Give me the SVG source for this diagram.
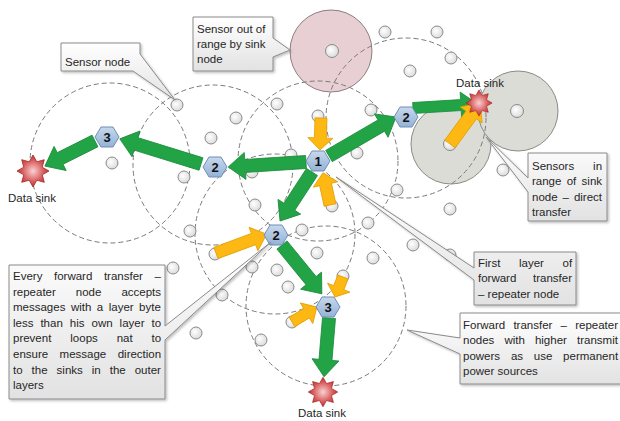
<svg xmlns="http://www.w3.org/2000/svg" xmlns:xlink="http://www.w3.org/1999/xlink" width="620" height="421" viewBox="0 0 620 421">
<defs>
<style>
.range{fill:none;stroke:#7a7a7a;stroke-width:1;stroke-dasharray:5,3}
.sensor{fill:url(#sensorGrad);stroke:#8a8a8a;stroke-width:1}
.green{fill:#22a346;stroke:#1a8a3a;stroke-width:0.8}
.yellow{fill:#fdb813;stroke:#e39e00;stroke-width:0.8}
.hex{fill:url(#hexGrad);stroke:#6f8fb7;stroke-width:1}
.hexlbl{font-family:"Liberation Sans",Arial,sans-serif;font-size:13px;font-weight:bold;fill:#111;text-anchor:middle}
.txt{font-family:"Liberation Sans",Arial,sans-serif;font-size:11.5px;fill:#262626}
.mid{text-anchor:middle}
.callout{fill:url(#calloutGrad);stroke:#8a8a8a;stroke-width:1;filter:url(#shadow)}
.sink{fill:url(#starGrad);stroke:#a52a2a;stroke-width:0.8}
</style>
<linearGradient id="hexGrad" x1="0" y1="0" x2="0" y2="1"><stop offset="0" stop-color="#c7d8ec"/><stop offset="1" stop-color="#94b2d6"/></linearGradient>
<radialGradient id="sensorGrad" cx="0.4" cy="0.4" r="0.7"><stop offset="0" stop-color="#ffffff"/><stop offset="1" stop-color="#d6d6d6"/></radialGradient>
<radialGradient id="starGrad" cx="0.5" cy="0.5" r="0.5"><stop offset="0" stop-color="#f9d2d2"/><stop offset="0.6" stop-color="#dc6666"/><stop offset="1" stop-color="#c0302f"/></radialGradient>
<linearGradient id="calloutGrad" x1="0" y1="0" x2="0" y2="1"><stop offset="0" stop-color="#ffffff"/><stop offset="1" stop-color="#e2e2e2"/></linearGradient>
<filter id="shadow" x="-10%" y="-10%" width="130%" height="130%"><feDropShadow dx="1.5" dy="1.5" stdDeviation="1" flood-color="#000" flood-opacity="0.25"/></filter>
<path id="star" d="M0,-16L3.83,-9.24L11.31,-11.31L9.24,-3.83L16,0L9.24,3.83L11.31,11.31L3.83,9.24L0,16L-3.83,9.24L-11.31,11.31L-9.24,3.83L-16,0L-9.24,-3.83L-11.31,-11.31L-3.83,-9.24Z"/>
<path id="hexagon" d="M-12,0L-6,-10H6L12,0L6,10H-6Z"/>
</defs>
<rect width="620" height="421" fill="#ffffff"/>

<g id="sink-ranges">
<circle cx="331" cy="51" r="41" fill="#e8cfd3" stroke="#8e7e80" stroke-width="1"/>
<circle cx="451" cy="144" r="40" fill="#dcdcd6" stroke="#8a8a86" stroke-width="1"/>
<circle cx="518" cy="111" r="40" fill="#dcdcd6" stroke="#8a8a86" stroke-width="1"/>
</g>

<g id="range-circles">
<circle class="range" cx="110" cy="163" r="80"/>
<circle class="range" cx="213" cy="165" r="80"/>
<circle class="range" cx="318" cy="161" r="80"/>
<circle class="range" cx="406" cy="118" r="80"/>
<circle class="range" cx="275" cy="234" r="80"/>
<circle class="range" cx="326" cy="306" r="80"/>
</g>

<g id="sensors">
<circle class="sensor" cx="177" cy="105" r="6"/>
<circle class="sensor" cx="112" cy="163" r="6"/>
<circle class="sensor" cx="184" cy="177" r="6"/>
<circle class="sensor" cx="211" cy="138" r="6"/>
<circle class="sensor" cx="236" cy="118" r="6"/>
<circle class="sensor" cx="252" cy="172" r="6"/>
<circle class="sensor" cx="255" cy="205" r="6"/>
<circle class="sensor" cx="385" cy="32" r="6"/>
<circle class="sensor" cx="332" cy="51" r="6.5"/>
<circle class="sensor" cx="410" cy="71" r="6"/>
<circle class="sensor" cx="277" cy="104" r="6"/>
<circle class="sensor" cx="318" cy="116" r="6"/>
<circle class="sensor" cx="371" cy="110" r="6"/>
<circle class="sensor" cx="357" cy="153" r="6"/>
<circle class="sensor" cx="291" cy="155" r="6"/>
<circle class="sensor" cx="397" cy="190" r="6"/>
<circle class="sensor" cx="332" cy="206" r="6"/>
<circle class="sensor" cx="437" cy="32" r="6"/>
<circle class="sensor" cx="451" cy="58" r="6"/>
<circle class="sensor" cx="517" cy="111" r="6.5"/>
<circle class="sensor" cx="450" cy="144" r="6.5"/>
<circle class="sensor" cx="503" cy="170" r="6"/>
<circle class="sensor" cx="450" cy="209" r="6"/>
<circle class="sensor" cx="413" cy="245" r="6"/>
<circle class="sensor" cx="450" cy="255" r="6"/>
<circle class="sensor" cx="302" cy="230" r="6"/>
<circle class="sensor" cx="368" cy="223" r="6"/>
<circle class="sensor" cx="317" cy="253" r="6"/>
<circle class="sensor" cx="373" cy="258" r="6"/>
<circle class="sensor" cx="277" cy="270" r="6"/>
<circle class="sensor" cx="343" cy="276" r="6"/>
<circle class="sensor" cx="288" cy="287" r="6"/>
<circle class="sensor" cx="292" cy="322" r="6"/>
<circle class="sensor" cx="215" cy="254" r="6"/>
<circle class="sensor" cx="252" cy="267" r="6"/>
<circle class="sensor" cx="222" cy="295" r="6"/>
<circle class="sensor" cx="261" cy="340" r="6"/>
<circle class="sensor" cx="190" cy="231" r="6"/>
<circle class="sensor" cx="173" cy="268" r="6"/>
<circle class="sensor" cx="196" cy="333" r="6"/>
</g>

<g id="connectors">
<path class="green" transform="translate(306,162) rotate(176.3)" d="M0,-6.5H61V-13.5L78,0L61,13.5V6.5H0Z"/>
<path class="green" transform="translate(201,164) rotate(197.2)" d="M0,-6.5H68V-13.5L85,0L68,13.5V6.5H0Z"/>
<path class="green" transform="translate(95,141) rotate(153.4)" d="M0,-6.5H39V-13.5L56,0L39,13.5V6.5H0Z"/>
<path class="green" transform="translate(329,156) rotate(-30.2)" d="M0,-6.5H60.5V-13.5L77.5,0L60.5,13.5V6.5H0Z"/>
<path class="green" transform="translate(413,108) rotate(-3.5)" d="M0,-5.5H48V-13L65,0L48,13V5.5H0Z"/>
<path class="green" transform="translate(312,172) rotate(123.1)" d="M0,-6.5H41.5V-13.5L58.5,0L41.5,13.5V6.5H0Z"/>
<path class="green" transform="translate(282,245) rotate(50.8)" d="M0,-6.5H46V-13.5L63,0L46,13.5V6.5H0Z"/>
<path class="green" transform="translate(329,318) rotate(94.8)" d="M0,-6.5H42V-13.5L59,0L42,13.5V6.5H0Z"/>
<path class="yellow" transform="translate(321,118) rotate(91.8)" d="M0,-6H20V-12.5L32,0L20,12.5V6H0Z"/>
<path class="yellow" transform="translate(330,205) rotate(-102.3)" d="M0,-6H21V-12.5L33,0L21,12.5V6H0Z"/>
<path class="yellow" transform="translate(216,253) rotate(-20.4)" d="M0,-6H40V-12.5L54,0L40,12.5V6H0Z"/>
<path class="yellow" transform="translate(343,277) rotate(111.8)" d="M0,-5.5H11.5V-12L21.5,0L11.5,12V5.5H0Z"/>
<path class="yellow" transform="translate(292,322) rotate(-31)" d="M0,-5.5H17V-12L29,0L17,12V5.5H0Z"/>
<path class="yellow" transform="translate(450,144) rotate(-53.8)" d="M0,-6.5H36V-13.5L51,0L36,13.5V6.5H0Z"/>
</g>

<g id="sink-left">
<use xlink:href="#star" class="sink" transform="translate(33,171)"/>
<text class="txt mid" x="32" y="202">Data sink</text>
</g>
<g id="sink-top">
<use xlink:href="#star" class="sink" transform="translate(479,103) scale(0.82)"/>
<text class="txt mid" x="480" y="87">Data sink</text>
</g>
<g id="sink-bottom">
<use xlink:href="#star" class="sink" transform="translate(323,392) scale(0.92)"/>
<text class="txt mid" x="322" y="417">Data sink</text>
</g>

<g id="node-1"><use xlink:href="#hexagon" class="hex" transform="translate(318,161)"/><text class="hexlbl" x="318" y="166">1</text></g>
<g id="node-2-left"><use xlink:href="#hexagon" class="hex" transform="translate(215,167)"/><text class="hexlbl" x="215" y="172">2</text></g>
<g id="node-3-left"><use xlink:href="#hexagon" class="hex" transform="translate(107,137)"/><text class="hexlbl" x="107" y="142">3</text></g>
<g id="node-2-right"><use xlink:href="#hexagon" class="hex" transform="translate(406,117)"/><text class="hexlbl" x="406" y="122">2</text></g>
<g id="node-2-low"><use xlink:href="#hexagon" class="hex" transform="translate(276,235)"/><text class="hexlbl" x="276" y="240">2</text></g>
<g id="node-3-low"><use xlink:href="#hexagon" class="hex" transform="translate(328,307)"/><text class="hexlbl" x="328" y="312">3</text></g>

<g id="callout-sensor-node">
<path class="callout" d="M61,43H140V54L175,100L133,71H61Z"/>
<text class="txt" x="65" y="66">Sensor node</text>
</g>

<g id="callout-out-of-range">
<path class="callout" d="M193,17H273V38L290,50L273,57V71H193Z"/>
<text class="txt" x="197" y="33">Sensor out of</text>
<text class="txt" x="197" y="48">range by sink</text>
<text class="txt" x="197" y="63">node</text>
</g>

<g id="callout-in-range">
<path class="callout" d="M528,153H607V221H528V192L486,137L528,178Z"/>
<text class="txt" y="169.5"><tspan x="532">Sensors</tspan><tspan x="593.1">in</tspan></text>
<text class="txt" y="185"><tspan x="532">range</tspan><tspan x="566.7">of</tspan><tspan x="581.6">sink</tspan></text>
<text class="txt" y="200.5"><tspan x="532">node</tspan><tspan x="562.5">–</tspan><tspan x="573.9">direct</tspan></text>
<text class="txt" x="532" y="216">transfer</text>
</g>

<g id="callout-first-layer">
<path class="callout" d="M474,252H576V305H474V280L336,177L474,268Z"/>
<text class="txt" y="266.5"><tspan x="478">First</tspan><tspan x="519">layer</tspan><tspan x="562.5">of</tspan></text>
<text class="txt" y="282"><tspan x="478">forward</tspan><tspan x="533">transfer</tspan></text>
<text class="txt" x="478" y="297.5">– repeater node</text>
</g>

<g id="callout-forward">
<path class="callout" d="M460,313H624V384H460V354L407,330L460,338Z"/>
<text class="txt" y="328.5"><tspan x="463">Forward</tspan><tspan x="513.4">transfer</tspan><tspan x="560.6">–</tspan><tspan x="575.2">repeater</tspan></text>
<text class="txt" y="344"><tspan x="463">nodes</tspan><tspan x="504.4">with</tspan><tspan x="534.9">higher</tspan><tspan x="577">transmit</tspan></text>
<text class="txt" y="359.5"><tspan x="463">powers</tspan><tspan x="510.9">as</tspan><tspan x="533.8">use</tspan><tspan x="563.1">permanent</tspan></text>
<text class="txt" x="463" y="375">power sources</text>
</g>

<g id="callout-every">
<path class="callout" d="M9,265H165V326L271,242L165,340V399H9Z"/>
<text class="txt" y="280"><tspan x="13">Every</tspan><tspan x="54">forward</tspan><tspan x="103.9">transfer</tspan><tspan x="154.5">–</tspan></text>
<text class="txt" y="295.6"><tspan x="13">repeater</tspan><tspan x="75.8">node</tspan><tspan x="121.4">accepts</tspan></text>
<text class="txt" y="311.2"><tspan x="13">messages</tspan><tspan x="70.9">with</tspan><tspan x="96.8">a</tspan><tspan x="108.7">layer</tspan><tspan x="139.1">byte</tspan></text>
<text class="txt" y="326.8"><tspan x="13">less</tspan><tspan x="40.4">than</tspan><tspan x="69.8">his</tspan><tspan x="91.5">own</tspan><tspan x="119.6">layer</tspan><tspan x="151.5">to</tspan></text>
<text class="txt" y="342.4"><tspan x="13">prevent</tspan><tspan x="70.3">loops</tspan><tspan x="116.7">nat</tspan><tspan x="151.6">to</tspan></text>
<text class="txt" y="358"><tspan x="13">ensure</tspan><tspan x="59.6">message</tspan><tspan x="117.7">direction</tspan></text>
<text class="txt" y="373.6"><tspan x="13">to</tspan><tspan x="31.6">the</tspan><tspan x="56.6">sinks</tspan><tspan x="91.8">in</tspan><tspan x="109.7">the</tspan><tspan x="134.7">outer</tspan></text>
<text class="txt" x="13" y="389.2">layers</text>
</g>
</svg>
